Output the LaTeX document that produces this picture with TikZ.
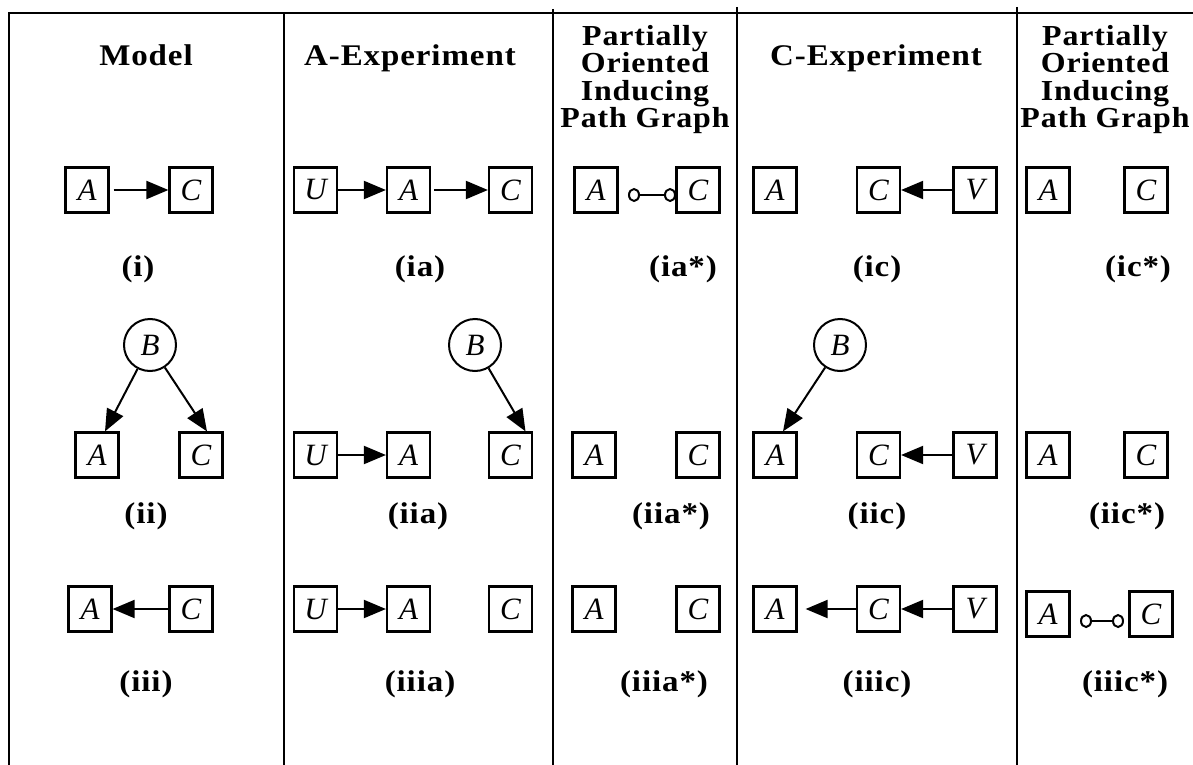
\documentclass[tikz,border=0pt]{standalone}
\usepackage{fontspec}
\setmainfont{Liberation Serif}
\newfontfamily\hdrfont[LetterSpace=3,FakeStretch=1.1]{Liberation Serif}
\usetikzlibrary{arrows.meta,shapes.geometric}
\begin{document}
\begin{tikzpicture}[x=1pt,y=-1pt,
  frame/.style={line width=2.2pt},
  vbox/.style={draw,line width=2.2pt,minimum width=43pt,minimum height=45pt,inner sep=0pt,font=\fontsize{31}{31}\selectfont\itshape},
  bnode/.style={draw,circle,line width=2pt,minimum size=52pt,inner sep=0pt,font=\fontsize{31}{31}\selectfont\itshape},
  hdr/.style={font=\hdrfont\bfseries\fontsize{30}{27}\selectfont,anchor=base,inner sep=0pt},
  hdrm/.style={font=\hdrfont\bfseries\fontsize{29}{27.5}\selectfont,align=center,anchor=north,inner sep=0pt},
  captxt/.style={font=\hdrfont\bfseries\fontsize{30}{30}\selectfont,anchor=base,inner sep=0pt},
  arr/.style={line width=2pt,-{Triangle[length=22pt,width=18pt]}},
  oend/.style={draw,ellipse,line width=2pt,minimum width=10pt,minimum height=12pt,inner sep=0pt},
  oline/.style={line width=2pt}]
\useasboundingbox (0,0) rectangle (1193,765);
% frame
\draw[frame] (9,765) -- (9,13) -- (1193,13);
\draw[frame] (284,13) -- (284,765);
\draw[frame] (553,9) -- (553,765);
\draw[frame] (737,7) -- (737,765);
\draw[frame] (1017,7) -- (1017,765);
% headers
\node[hdr] (h1) at (146,66) {Model};
\node[hdr] (h2) at (410,66) {A-Experiment};
\node[hdr] (h4) at (876,66) {C-Experiment};
\node[hdrm] (h3) at (645,25) {Partially\\Oriented\\Inducing\\Path Graph};
\node[hdrm] (h5) at (1105,25) {Partially\\Oriented\\Inducing\\Path Graph};
% column 1: model
\node[vbox] (mA1) at (87,190) {A};
\node[vbox] (mC1) at (191,190) {C};
\draw[arr,shorten <=4pt] (mA1) -- (mC1);
\node[bnode] (mB2) at (150,345) {B};
\node[vbox] (mA2) at (97,455) {A};
\node[vbox] (mC2) at (201,455) {C};
\draw[arr] (mB2) -- ([xshift=8pt]mA2.north);
\draw[arr] (mB2) -- ([xshift=6pt]mC2.north);
\node[vbox] (mA3) at (90,609) {A};
\node[vbox] (mC3) at (191,609) {C};
\draw[arr] (mC3) -- (mA3);
% column 2: A-experiment
\node[vbox] (aU1) at (315.5,190) {U};
\node[vbox] (aA1) at (408.5,190) {A};
\node[vbox] (aC1) at (510.5,190) {C};
\draw[arr] (aU1) -- (aA1);
\draw[arr,shorten <=3pt] (aA1) -- (aC1);
\node[bnode] (aB2) at (475,345) {B};
\node[vbox] (aU2) at (315.5,455) {U};
\node[vbox] (aA2) at (408.5,455) {A};
\node[vbox] (aC2) at (510.5,455) {C};
\draw[arr] (aU2) -- (aA2);
\draw[arr] (aB2) -- ([xshift=15pt]aC2.north);
\node[vbox] (aU3) at (315.5,609) {U};
\node[vbox] (aA3) at (408.5,609) {A};
\node[vbox] (aC3) at (510.5,609) {C};
\draw[arr] (aU3) -- (aA3);
% column 3: POIPG
\node[vbox] (pA1) at (596,190) {A};
\node[vbox] (pC1) at (698,190) {C};
\node[oend] (po1) at (634,195) {};
\node[oend] (po2) at (670,195) {};
\draw[oline] (po1) -- (po2);
\node[vbox] (pA2) at (594,455) {A};
\node[vbox] (pC2) at (698,455) {C};
\node[vbox] (pA3) at (594,609) {A};
\node[vbox] (pC3) at (698,609) {C};
% column 4: C-experiment
\node[vbox] (cA1) at (775,190) {A};
\node[vbox] (cC1) at (878.5,190) {C};
\node[vbox] (cV1) at (975,190) {V};
\draw[arr] (cV1) -- (cC1);
\node[bnode] (cB2) at (840,345) {B};
\node[vbox] (cA2) at (775,455) {A};
\node[vbox] (cC2) at (878.5,455) {C};
\node[vbox] (cV2) at (975,455) {V};
\draw[arr] (cB2) -- ([xshift=8pt]cA2.north);
\draw[arr] (cV2) -- (cC2);
\node[vbox] (cA3) at (775,609) {A};
\node[vbox] (cC3) at (878.5,609) {C};
\node[vbox] (cV3) at (975,609) {V};
\draw[arr] (cV3) -- (cC3);
\draw[arr,shorten >=8pt] (cC3) -- (cA3);
% column 5: POIPG
\node[vbox] (qA1) at (1048,190) {A};
\node[vbox] (qC1) at (1146,190) {C};
\node[vbox] (qA2) at (1048,455) {A};
\node[vbox] (qC2) at (1146,455) {C};
\node[vbox] (qA3) at (1048,614) {A};
\node[vbox] (qC3) at (1151,614) {C};
\node[oend] (qo1) at (1086,621) {};
\node[oend] (qo2) at (1118,621) {};
\draw[oline] (qo1) -- (qo2);
% captions
\node[captxt] (k11) at (138,276) {(i)};
\node[captxt] (k12) at (420,276) {(ia)};
\node[captxt] (k13) at (683,276) {(ia*)};
\node[captxt] (k14) at (877,276) {(ic)};
\node[captxt] (k15) at (1138,276) {(ic*)};
\node[captxt] (k21) at (146,523) {(ii)};
\node[captxt] (k22) at (418,523) {(iia)};
\node[captxt] (k23) at (671,523) {(iia*)};
\node[captxt] (k24) at (877,523) {(iic)};
\node[captxt] (k25) at (1127,523) {(iic*)};
\node[captxt] (k31) at (146,691) {(iii)};
\node[captxt] (k32) at (420,691) {(iiia)};
\node[captxt] (k33) at (664,691) {(iiia*)};
\node[captxt] (k34) at (877,691) {(iiic)};
\node[captxt] (k35) at (1125,691) {(iiic*)};
\end{tikzpicture}
\end{document}
